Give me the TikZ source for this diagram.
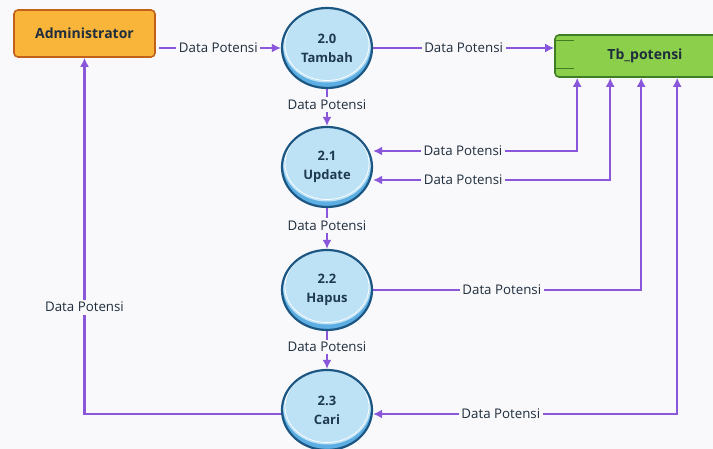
\documentclass[tikz,border=0pt]{standalone}
\usepackage{fontspec}
\setmainfont{Open Sans}
\usetikzlibrary{shapes.geometric,arrows.meta,positioning}

\definecolor{bgc}{HTML}{F9F9FB}
\definecolor{flowc}{HTML}{8A57DA}
\definecolor{admfill}{HTML}{F9B53A}
\definecolor{admline}{HTML}{C2611A}
\definecolor{procfill}{HTML}{BEE2F5}
\definecolor{procshade}{HTML}{5DAFE3}
\definecolor{procline}{HTML}{1C5784}
\definecolor{tbfill}{HTML}{8CCF4A}
\definecolor{tbline}{HTML}{3F7D24}
\definecolor{txtc}{HTML}{1F2D3D}

\tikzset{
  entity/.style={draw=admline, fill=admfill, line width=1.6pt, rounded corners=4pt,
    minimum width=141pt, minimum height=47pt, text=txtc,
    font=\fontsize{14}{16}\selectfont\bfseries},
  proc/.style={ellipse, draw=procline, fill=procshade, line width=2.2pt,
    minimum width=90pt, minimum height=80pt, inner sep=0pt, align=center,
    text=txtc!70!procline, font=\fontsize{13}{19}\selectfont\bfseries,
    path picture={
      \fill[procfill] ([yshift=3.5pt]path picture bounding box.center)
        ellipse [x radius=44pt, y radius=38pt];
      \draw[white, line width=0.7pt] ([yshift=3.5pt]path picture bounding box.center)
        ellipse [x radius=42pt, y radius=36pt];}},
  store/.style={draw=tbline, fill=tbfill, line width=1.6pt, rounded corners=4pt,
    minimum width=180pt, minimum height=42pt, text=txtc,
    font=\fontsize{14}{16}\selectfont\bfseries},
  flow/.style={draw=flowc, line width=2.4pt},
  lbl/.style={fill=bgc, inner sep=2.5pt, text=txtc, font=\fontsize{13.3}{15}\selectfont},
}

\begin{document}
\begin{tikzpicture}[x=1pt, y=-1pt, >={Latex[length=9pt,width=9pt]}]
  \fill[bgc] (0,0) rectangle (713,449);
  \useasboundingbox (0,0) rectangle (713,449);
  \clip (0,0) rectangle (713,449);

  % external entity and data store
  \node[entity] (adm) at (84.5,33.5) {Administrator};
  \node[store, text width=160pt, align=center] (tb) at (645,56) {Tb\_potensi};
  \draw[tbline, line width=1pt] ([xshift=2pt,yshift=-6pt]tb.north west) -- ++(18,0);
  \draw[tbline, line width=1pt] ([xshift=2pt,yshift=9pt]tb.south west) -- ++(18,0);

  % processes
  \node[proc] (p0) at (327,48) {2.0\\Tambah};
  \node[proc] (p1) at (327,167) {2.1\\Update};
  \node[proc] (p2) at (327,290) {2.2\\Hapus};
  \node[proc] (p3) at (327,410) {2.3\\Cari};

  % flows
  \draw[flow,->,shorten <=3pt] (adm.east |- p0) -- node[lbl]{Data Potensi} (p0);
  \draw[flow,->] (p0.east) -- node[lbl]{Data Potensi} (p0.east -| tb.west);
  \draw[flow,->] (p0) -- node[lbl,pos=0.42]{Data Potensi} (p1);
  \draw[flow,->] (p1) -- node[lbl,pos=0.42]{Data Potensi} (p2);
  \draw[flow,->] (p2) -- node[lbl,pos=0.42]{Data Potensi} (p3);

  \draw[flow,<->] ([xshift=23pt]tb.south west) |- node[lbl,pos=0.78]{Data Potensi} ([yshift=16pt]p1.east);
  \draw[flow,<->] ([xshift=56pt]tb.south west) |- node[lbl,pos=0.81]{Data Potensi} ([yshift=-13pt]p1.east);
  \draw[flow,->] (p2.east) -| node[lbl,pos=0.24]{Data Potensi} ([xshift=87pt]tb.south west);
  \draw[flow,<->] ([xshift=123pt]tb.south west) |- node[lbl,pos=0.79]{Data Potensi} ([yshift=-4pt]p3.east);
  \draw[flow,->] ([yshift=-4pt]p3.west) -| node[lbl,pos=0.65]{Data Potensi} (adm.south);
\end{tikzpicture}
\end{document}
